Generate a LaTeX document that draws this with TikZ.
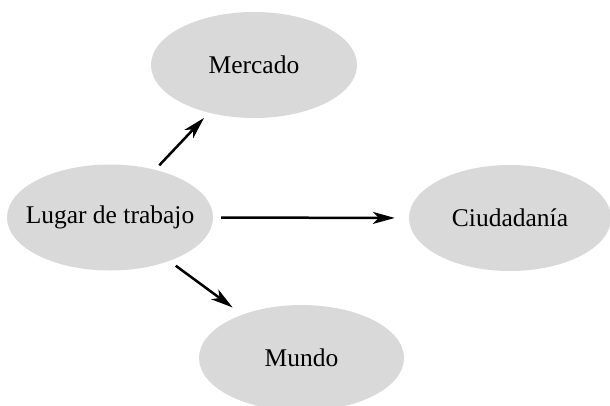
\documentclass[tikz,border=0pt]{standalone}
\usepackage{fontspec}
\setmainfont{Liberation Serif}
\usetikzlibrary{shapes.geometric,arrows.meta}
\definecolor{ellgray}{HTML}{D9D9D9}
\newcommand{\blobtext}[1]{\makebox[0pt]{#1}}
\tikzset{
  blob/.style={ellipse, fill=ellgray, draw=none, inner sep=0pt,
    minimum width=206pt, minimum height=106pt,
    font=\fontsize{25.5}{30}\selectfont},
  conn/.style={line width=2.5pt, -{Stealth[length=22pt,width=12pt,inset=6pt]}}
}
\begin{document}
\begin{tikzpicture}[x=1pt,y=-1pt]
\useasboundingbox (0,0) rectangle (610,405);
\node[blob] (mercado) at (254,65) {\blobtext{Mercado}};
\node[blob] (lugar) at (110,217.5) {\blobtext{Lugar de trabajo}};
\node[blob, minimum width=202pt] (ciudad) at (510,218) {\blobtext{Ciudadanía}};
\node[blob, minimum width=205pt] (mundo) at (301.5,358) {\blobtext{Mundo}};
\draw[conn, shorten <=6pt, shorten >=7pt] (lugar) -- (mercado);
\draw[conn, shorten <=8pt, shorten >=14pt] (lugar.east) -- (ciudad.west);
\draw[conn, shorten <=8pt, shorten >=12pt] (lugar) -- (mundo);
\end{tikzpicture}
\end{document}
